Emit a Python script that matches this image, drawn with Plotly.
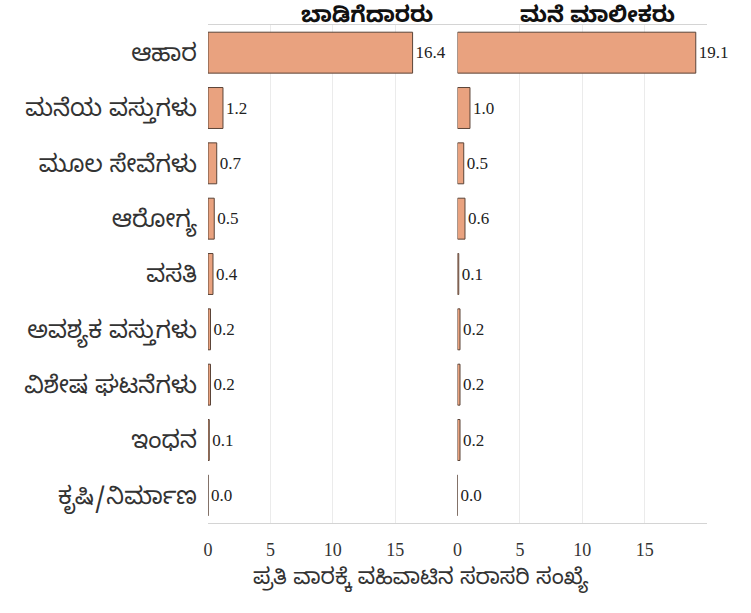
import plotly.graph_objects as go

categories = ["ಆಹಾರ", "ಮನೆಯ ವಸ್ತುಗಳು", "ಮೂಲ ಸೇವೆಗಳು", "ಆರೋಗ್ಯ", "ವಸತಿ",
              "ಅವಶ್ಯಕ ವಸ್ತುಗಳು", "ವಿಶೇಷ ಘಟನೆಗಳು", "ಇಂಧನ", "ಕೃಷಿ/ನಿರ್ಮಾಣ"]
renters = [16.4, 1.2, 0.7, 0.5, 0.4, 0.2, 0.2, 0.1, 0.0]
owners = [19.1, 1.0, 0.5, 0.6, 0.1, 0.2, 0.2, 0.2, 0.0]
panel_titles = ["ಬಾಡಿಗೆದಾರರು", "ಮನೆ ಮಾಲೀಕರು"]
x_title = "ಪ್ರತಿ ವಾರಕ್ಕೆ ವಹಿವಾಟಿನ ಸರಾಸರಿ ಸಂಖ್ಯೆ"
tick_vals = [0, 5, 10, 15]

KFONT = "Noto Sans Kannada, Tunga, Noto Serif Kannada, Noto Sans, sans-serif"
SERIF = "Liberation Serif, Times New Roman, serif"
BAR = "#E9A27F"
EDGE = "#5b4438"

W, H = 751, 613
ml, mr, mt, mb = 208, 44, 25, 90

fig = go.Figure()
for i, (vals, xa, ya) in enumerate([(renters, "x", "y"), (owners, "x2", "y")]):
    fig.add_trace(go.Bar(
        y=categories, x=vals, orientation="h", xaxis=xa, yaxis=ya,
        marker=dict(color=BAR, line=dict(color=EDGE, width=1)),
        width=0.74,
        text=[f"{v:.1f}" for v in vals], textposition="outside",
        textfont=dict(family=SERIF, size=17, color="#222"),
        cliponaxis=False, showlegend=False, hoverinfo="skip",
    ))

axis_common = dict(range=[0, 20], tickvals=tick_vals, showgrid=True,
                   gridcolor="#ebebeb", gridwidth=1, zeroline=False,
                   showline=True, linecolor="#d4d4d4", linewidth=1, mirror=True,
                   tickfont=dict(family=SERIF, size=18, color="#333"),
                   ticks="", ticklabelstandoff=10, fixedrange=True, automargin=False)

fig.update_layout(
    width=W, height=H,
    margin=dict(l=ml, r=mr, t=mt, b=mb),
    plot_bgcolor="white", paper_bgcolor="white",
    xaxis=dict(domain=[0, 0.5], **axis_common),
    xaxis2=dict(domain=[0.5, 1], anchor="y", **axis_common),
    yaxis=dict(autorange="reversed", tickfont=dict(family=KFONT, size=24, color="#333"),
               ticks="", ticklabelstandoff=10, showline=False, showgrid=False,
               automargin=False, fixedrange=True),
    bargap=0.26,
)

pw = W - ml - mr
ph = H - mt - mb
def px_to_paper(x):
    return (x - ml) / pw
def py_to_paper(y):
    return 1 - (y - mt) / ph

for name, cx in zip(panel_titles, [367, 597]):
    fig.add_annotation(text=f"<b>{name}</b>", x=px_to_paper(cx), y=py_to_paper(19),
                       yref="paper", xref="paper", xanchor="center", yanchor="middle",
                       showarrow=False, font=dict(family=KFONT, size=22, color="#111"),
                       borderpad=0)
fig.add_annotation(text=x_title, x=px_to_paper(421), y=py_to_paper(581), yref="paper",
                   xref="paper", xanchor="center", yanchor="middle", showarrow=False,
                   font=dict(family=KFONT, size=22, color="#333"), borderpad=0)

fig.write_html("out.html", config={"displayModeBar": False, "staticPlot": True},
               post_script="document.body.style.margin='0';document.body.style.overflow='hidden';")
